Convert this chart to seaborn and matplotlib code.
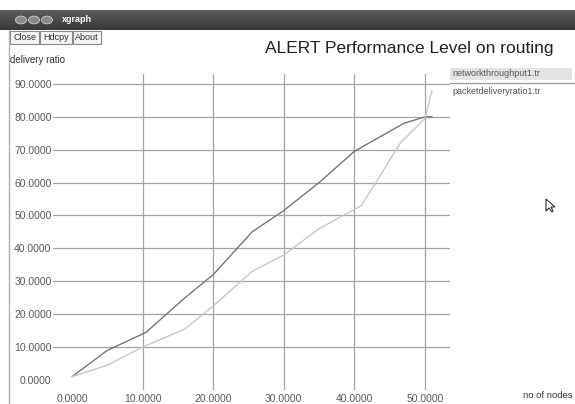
import matplotlib
matplotlib.use("Agg")
import matplotlib.pyplot as plt
from matplotlib.patches import Rectangle, Circle, Polygon
from matplotlib.lines import Line2D
import seaborn as sns
import pandas as pd

# --- data -----------------------------------------------------------------
throughput_x = [0, 5, 10.5, 16, 20, 25.5, 30, 35, 40, 47, 50, 51]
throughput_y = [1, 9, 14.5, 25, 32, 45, 51.5, 60, 69.5, 78, 80, 80]

delivery_x = [0, 5, 10, 16, 20, 25.5, 30, 35, 41, 46.5, 50, 51]
delivery_y = [1, 4.5, 10, 15.5, 22.5, 33, 38, 46, 53, 72, 79.5, 88]

series_names = ["networkthroughput1.tr", "packetdeliveryratio1.tr"]
x_ticks = [0, 10, 20, 30, 40, 50]
y_ticks = [0, 10, 20, 30, 40, 50, 60, 70, 80, 90]

title = "ALERT Performance Level on routing"
y_label = "delivery ratio"
x_label = "no of nodes"

# --- figure ---------------------------------------------------------------
W, H = 575, 404
sns.set_theme(style="white")
plt.rcParams["font.family"] = ["Liberation Sans", "DejaVu Sans"]

fig = plt.figure(figsize=(W / 100, H / 100), dpi=100)
fig.patch.set_facecolor("white")


def fx(px):
    return px / W


def fy(py):
    return 1 - py / H


# window title bar
for i in range(20):
    shade = 0.36 - 0.14 * i / 19
    fig.patches.append(Rectangle((0, fy(10 + i + 1)), 1, 1 / H * 1.05,
                                 transform=fig.transFigure,
                                 facecolor=(shade, shade, shade),
                                 edgecolor="none", zorder=1))
for cx in (21, 34, 47):
    fig.patches.append(Circle((fx(cx), fy(20)), 5.5 / W,
                              transform=fig.transFigure,
                              facecolor="#8a8a8a", edgecolor="#d0d0d0",
                              lw=0.6, zorder=2))
fig.text(fx(62), fy(20), "xgraph", color="white", fontsize=6.5,
         fontweight="bold", va="center", ha="left")

# window left border
fig.lines.append(Line2D([fx(9), fx(9)], [fy(30), 0], transform=fig.transFigure,
                        color="#b0b0b0", lw=1.0))

# buttons
for left, right, label in ((10, 39, "Close"), (40, 72, "Hdcpy"), (73, 101, "About")):
    fig.patches.append(Rectangle((fx(left), fy(44)), fx(right) - fx(left),
                                 fy(31) - fy(44), transform=fig.transFigure,
                                 facecolor="#f4f4f4", edgecolor="#8a8a8a",
                                 lw=0.8))
    fig.text(fx((left + right) / 2), fy(37.5), label, fontsize=6.5,
             color="#333333", ha="center", va="center")

fig.text(fx(409), fy(48), title, fontsize=12.5, color="#222222",
         ha="center", va="center")
fig.text(fx(10), fy(60), y_label, fontsize=7, color="#333333",
         ha="left", va="center")
fig.text(fx(573), fy(395), x_label, fontsize=6.8, color="#333333",
         ha="right", va="center")

# --- plot area ------------------------------------------------------------
ax = fig.add_axes([fx(53), fy(390), fx(450) - fx(53), fy(74) - fy(390)])
ax.set_facecolor("none")

df_a = pd.DataFrame({"x": throughput_x, "y": throughput_y})
df_b = pd.DataFrame({"x": delivery_x, "y": delivery_y})
sns.lineplot(data=df_a, x="x", y="y", ax=ax, color="#767676", lw=1.0,
             sort=False, zorder=3)
sns.lineplot(data=df_b, x="x", y="y", ax=ax, color="#c8c8c8", lw=1.0,
             sort=False, zorder=3)

ax.set_xlim(-2.69, 53.54)
ax.set_ylim(-3.04, 93.0)
for s in ax.spines.values():
    s.set_visible(False)
ax.set_xlabel("")
ax.set_ylabel("")
ax.set_xticks(x_ticks)
ax.set_yticks(y_ticks)
ax.set_xticklabels([f"{v:.4f}" for v in x_ticks], fontsize=7.5, color="#5a5a5a")
ax.set_yticklabels([f"{v:.4f}" for v in y_ticks], fontsize=7.5, color="#5a5a5a")
ax.tick_params(axis="both", length=0, pad=1)
ax.tick_params(axis="x", pad=3)

for v in x_ticks[1:]:
    ax.axvline(v, color="#a4a4a4", lw=0.9, zorder=1)
for v in y_ticks[1:]:
    ax.axhline(v, color="#a4a4a4", lw=0.9, zorder=1)

# --- legend ---------------------------------------------------------------
fig.patches.append(Rectangle((fx(450), fy(80)), fx(572) - fx(450),
                             fy(68) - fy(80), transform=fig.transFigure,
                             facecolor="#e4e4e4", edgecolor="none"))
fig.text(fx(452), fy(74), series_names[0], fontsize=6.5, color="#555555",
         ha="left", va="center")
fig.lines.append(Line2D([fx(450), fx(575)], [fy(82.5), fy(82.5)],
                        transform=fig.transFigure, color="#9c9c9c", lw=0.9))
fig.text(fx(452), fy(92), series_names[1], fontsize=6.5, color="#555555",
         ha="left", va="center")

# mouse pointer
fig.patches.append(Polygon([(fx(546), fy(199)), (fx(546), fy(211)),
                            (fx(549), fy(208)), (fx(552), fy(212)),
                            (fx(553), fy(211)), (fx(551), fy(207)),
                            (fx(555), fy(207))], closed=True,
                           transform=fig.transFigure, facecolor="white",
                           edgecolor="#333333", lw=0.8))

fig.savefig("out.png", dpi=100)
